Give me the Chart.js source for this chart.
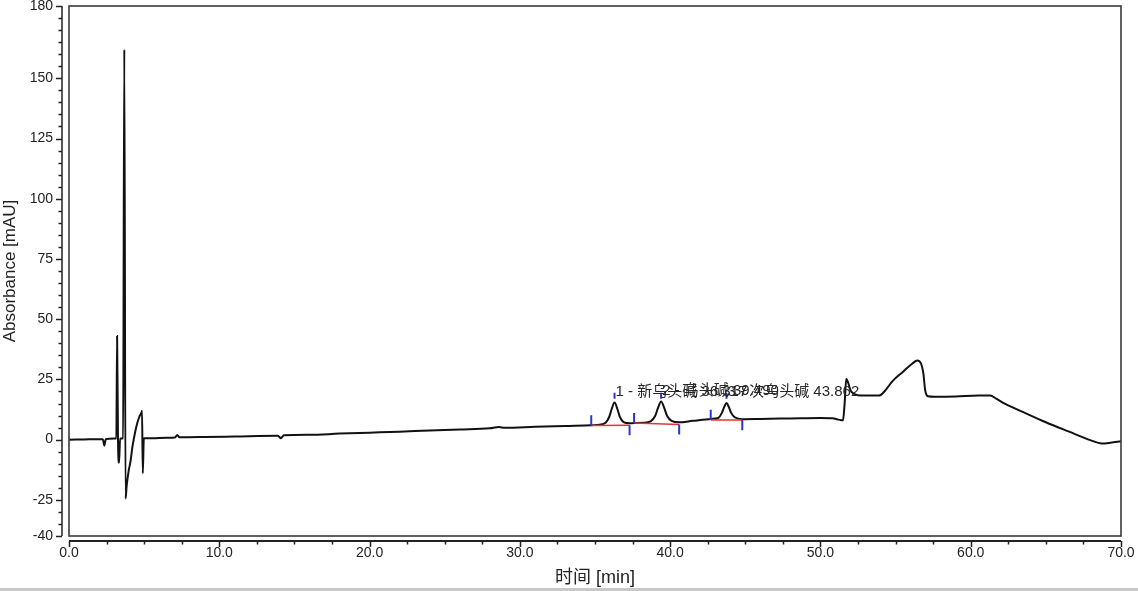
<!DOCTYPE html>
<html><head><meta charset="utf-8">
<script src="https://cdn.jsdelivr.net/npm/chart.js@4/dist/chart.umd.min.js"></script>
<style>
html,body{margin:0;padding:0;background:#fff;overflow:hidden}
#wrap{position:relative;width:1138px;height:591px}
#strip{position:absolute;left:0;right:0;bottom:0;height:3px;background:#c8c8c8}
</style></head><body>
<div id="wrap"><canvas id="c" width="1138" height="591"></canvas><div id="strip"></div></div>
<script>
// ---- data ----
const retentionTime = [0.0,1.0,2.0,2.25,2.35,2.45,3.0,3.15,3.2,3.26,3.33,3.4,3.6,3.68,3.76,3.84,3.97,4.10,4.22,4.32,4.43,4.54,4.68,4.83,4.86,4.91,4.98,5.5,6.5,7.05,7.2,7.35,9.0,11.0,13.9,14.1,14.3,16.0,18.0,20.0,22.0,24.0,26.0,28.0,28.6,29.0,31.0,33.0,34.75,35.3,35.7,35.95,36.1,36.3,36.5,36.65,36.9,37.3,37.6,38.2,38.7,39.0,39.2,39.4,39.6,39.8,40.1,40.6,41.5,42.7,43.2,43.45,43.6,43.75,43.9,44.05,44.3,44.8,46.0,48.0,50.0,50.8,51.2,51.5,51.6,51.72,51.85,52.0,52.3,52.7,53.9,54.3,54.8,55.5,56.1,56.45,56.7,56.85,56.97,57.15,57.6,59.0,60.5,61.3,61.7,62.3,63.5,65.0,66.5,68.0,68.7,69.3,70.0];
const absorbance    = [0.0,0.1,0.2,0.2,-2.5,0.2,0.5,0.5,43.0,0.0,-9.6,0.5,0.6,162.0,-24.5,-19.0,-13.0,-8.7,-3.0,0.5,4.0,6.8,9.5,11.3,12.0,-14.0,0.6,0.6,0.8,0.9,1.9,1.0,1.1,1.3,1.6,0.6,1.8,2.0,2.5,2.9,3.3,3.8,4.2,4.7,5.2,4.9,5.3,5.7,6.0,6.2,7.0,9.5,12.5,15.4,12.5,9.5,7.3,6.8,6.9,7.0,7.6,9.8,13.3,15.8,13.3,9.8,7.8,7.2,7.8,8.6,9.0,11.2,13.6,15.2,13.6,11.2,9.3,8.5,8.6,8.8,9.0,8.9,8.3,8.0,14.0,25.3,23.5,20.5,18.8,18.3,18.3,20.3,24.3,28.2,31.5,32.9,31.5,27.5,20.5,18.0,17.8,17.9,18.3,18.3,17.0,14.8,11.4,7.2,3.4,-0.3,-1.6,-1.3,-0.7];

const peakLabels     = ['1 - 新乌头碱 36.317','2 - 乌头碱 39.490','3 - 次乌头碱 43.862'];
const peakApexTime   = [36.3, 39.4, 43.75];
const peakApexValue  = [15.4, 15.8, 15.2];
const peakStartTime  = [34.75, 37.6, 42.7];
const peakStartLevel = [5.9, 6.9, 8.2];
const peakEndTime    = [37.3, 40.6, 44.8];
const peakEndLevel   = [6.0, 6.3, 8.1];
const markerSpan     = 4.2;   // length of integration marks, mAU
const apexMarkLow    = 17.0;
const apexMarkHigh   = 19.5;

const yTickLabels = [180,150,125,100,75,50,25,0,-25,-40];
const xTickLabels = [0,10,20,30,40,50,60,70];

// ---- derived datasets ----
const traceData = retentionTime.map((t,i)=>({x:t,y:absorbance[i]}));
const baselineData = [];
const markerData = [];
peakStartTime.forEach((s,i)=>{
  baselineData.push({x:s,y:peakStartLevel[i]},{x:peakEndTime[i],y:peakEndLevel[i]},{x:peakEndTime[i],y:null});
  markerData.push({x:s,y:peakStartLevel[i]},{x:s,y:peakStartLevel[i]+markerSpan},{x:s,y:null});
  markerData.push({x:peakApexTime[i],y:apexMarkLow},{x:peakApexTime[i],y:apexMarkHigh},{x:peakApexTime[i],y:null});
  markerData.push({x:peakEndTime[i],y:peakEndLevel[i]},{x:peakEndTime[i],y:peakEndLevel[i]-markerSpan},{x:peakEndTime[i],y:null});
});

const FONT = "'Liberation Sans', Arial, 'Noto Sans CJK SC', sans-serif";

const decor = {
  id:'decor',
  afterDatasetsDraw(chart){
    const {ctx, scales:{x,y}} = chart;
    ctx.save();
    ctx.font = "15px " + FONT;
    ctx.fillStyle = '#262626';
    ctx.textBaseline = 'middle';
    ctx.textAlign = 'left';
    peakLabels.forEach((lab,i)=>{
      ctx.fillText(lab, x.getPixelForValue(peakApexTime[i]) + 1, y.getPixelForValue(peakApexValue[i]) - 11);
    });
    ctx.restore();
  },
  afterDraw(chart){
    const {ctx, chartArea:a, scales:{x,y}} = chart;
    ctx.save();
    ctx.strokeStyle = '#3a3a3a';
    ctx.lineWidth = 1.6;
    ctx.strokeRect(a.left, a.top, a.right-a.left, a.bottom-a.top);
    const ax = a.left - 7;
    ctx.strokeStyle = '#222';
    ctx.lineWidth = 1.5;
    ctx.beginPath();
    ctx.moveTo(ax, y.getPixelForValue(y.max)); ctx.lineTo(ax, y.getPixelForValue(y.min));
    y.ticks.forEach(tk=>{
      const py = Math.round(y.getPixelForValue(tk.value)) + 0.5;
      const len = yTickLabels.includes(tk.value) ? 6 : 3.5;
      ctx.moveTo(ax, py); ctx.lineTo(ax - len, py);
    });
    ctx.stroke();
    const ay = a.bottom + 5;
    ctx.beginPath();
    ctx.lineWidth = 2;
    ctx.moveTo(x.getPixelForValue(x.min), ay); ctx.lineTo(x.getPixelForValue(x.max), ay);
    ctx.stroke();
    ctx.beginPath();
    ctx.lineWidth = 1.5;
    x.ticks.forEach(tk=>{
      const px = Math.round(x.getPixelForValue(tk.value)) + 0.5;
      const len = xTickLabels.includes(tk.value) ? 6 : 3.5;
      ctx.moveTo(px, ay); ctx.lineTo(px, ay + len);
    });
    ctx.stroke();
    ctx.restore();
  }
};

new Chart(document.getElementById('c'), {
  type:'line',
  data:{datasets:[
    {data:traceData, borderColor:'#111', borderWidth:2, pointRadius:0, cubicInterpolationMode:'monotone', order:3},
    {data:baselineData, borderColor:'#e8342e', borderWidth:1.5, pointRadius:0, spanGaps:false, order:2},
    {data:markerData, borderColor:'#2f35c8', borderWidth:2, pointRadius:0, spanGaps:false, order:1}
  ]},
  options:{
    responsive:false, animation:false,
    layout:{padding:{left:0,right:17,top:6,bottom:0}},
    plugins:{legend:{display:false}, tooltip:{enabled:false}},
    scales:{
      x:{type:'linear', min:0, max:70,
        grid:{display:false, drawTicks:false}, border:{display:false},
        ticks:{stepSize:2.5, autoSkip:false, maxRotation:0, padding:9, color:'#222',
          font:{family:FONT,size:14},
          callback:v=> xTickLabels.includes(v) ? v.toFixed(1) : ''},
        title:{display:true, text:'时间 [min]', color:'#222', font:{family:FONT,size:18}, padding:{top:0,bottom:2}},
        afterFit:s=>{s.height=55; s.paddingLeft=0; s.paddingRight=0;}
      },
      y:{type:'linear', min:-40, max:180,
        grid:{display:false, drawTicks:false}, border:{display:false},
        ticks:{stepSize:5, autoSkip:false, padding:16, color:'#222',
          font:{family:FONT,size:14},
          callback:v=> yTickLabels.includes(v) ? String(v) : ''},
        title:{display:true, text:'Absorbance [mAU]', color:'#222', font:{family:FONT,size:17}, padding:{top:0,bottom:0}},
        afterFit:s=>{s.width=69; s.paddingTop=0; s.paddingBottom=0;}
      }
    }
  },
  plugins:[decor]
});
</script></body></html>
